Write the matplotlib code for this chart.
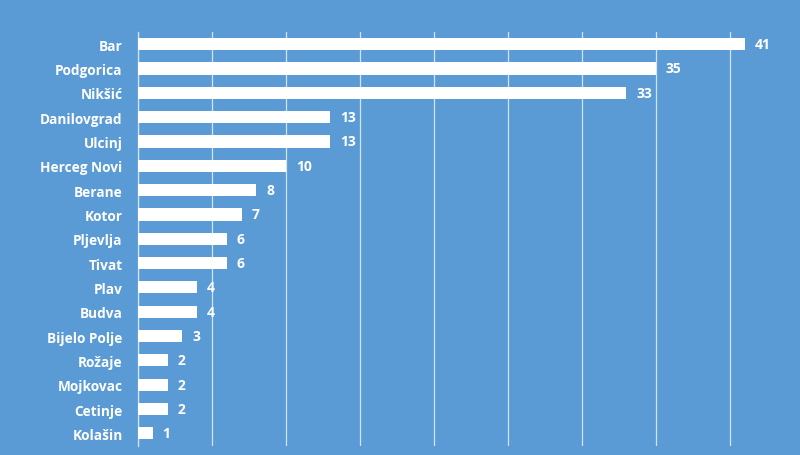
import matplotlib
matplotlib.use("Agg")
import matplotlib.pyplot as plt

cities = ["Bar", "Podgorica", "Nikšić", "Danilovgrad", "Ulcinj", "Herceg Novi", "Berane",
          "Kotor", "Pljevlja", "Tivat", "Plav", "Budva", "Bijelo Polje", "Rožaje",
          "Mojkovac", "Cetinje", "Kolašin"]
values = [41, 35, 33, 13, 13, 10, 8, 7, 6, 6, 4, 4, 3, 2, 2, 2, 1]
grid_ticks = [0, 5, 10, 15, 20, 25, 30, 35, 40]

bg = "#5B9BD5"
plt.rcParams['font.family'] = ['Open Sans', 'DejaVu Sans']

fig = plt.figure(figsize=(8, 4.56), dpi=100, facecolor=bg)
W, H = 800, 456
left, right, top, bottom = 138, 800, 33, 446.5
ax = fig.add_axes([left / W, 1 - bottom / H, (right - left) / W, (bottom - top) / H])
ax.set_facecolor(bg)

ypos = list(range(len(cities)))
ax.barh(ypos, values, height=0.5, color="white", zorder=3)
ax.set_ylim(len(cities) - 0.5, -0.5)
ax.set_xlim(0, (right - left) / 14.8)

ax.set_xticks(grid_ticks)
ax.xaxis.grid(True, color="#D2E3F3", linewidth=0.9, zorder=0)
ax.tick_params(axis="x", length=0, labelbottom=False)
ax.set_yticks(ypos)
ax.set_yticklabels(cities, fontsize=9.8, fontweight="bold", color="white")
ax.tick_params(axis="y", length=0, pad=11)

for s in ["top", "right", "bottom"]:
    ax.spines[s].set_visible(False)
ax.spines["left"].set_color("#D2E3F3")
ax.spines["left"].set_linewidth(0.9)

for y, v in zip(ypos, values):
    ax.annotate(str(v), (v, y), xytext=(7, 0), textcoords="offset points",
                va="center", ha="left", fontsize=10, fontweight="bold", color="white")

fig.savefig("out.png", dpi=100, facecolor=bg)
